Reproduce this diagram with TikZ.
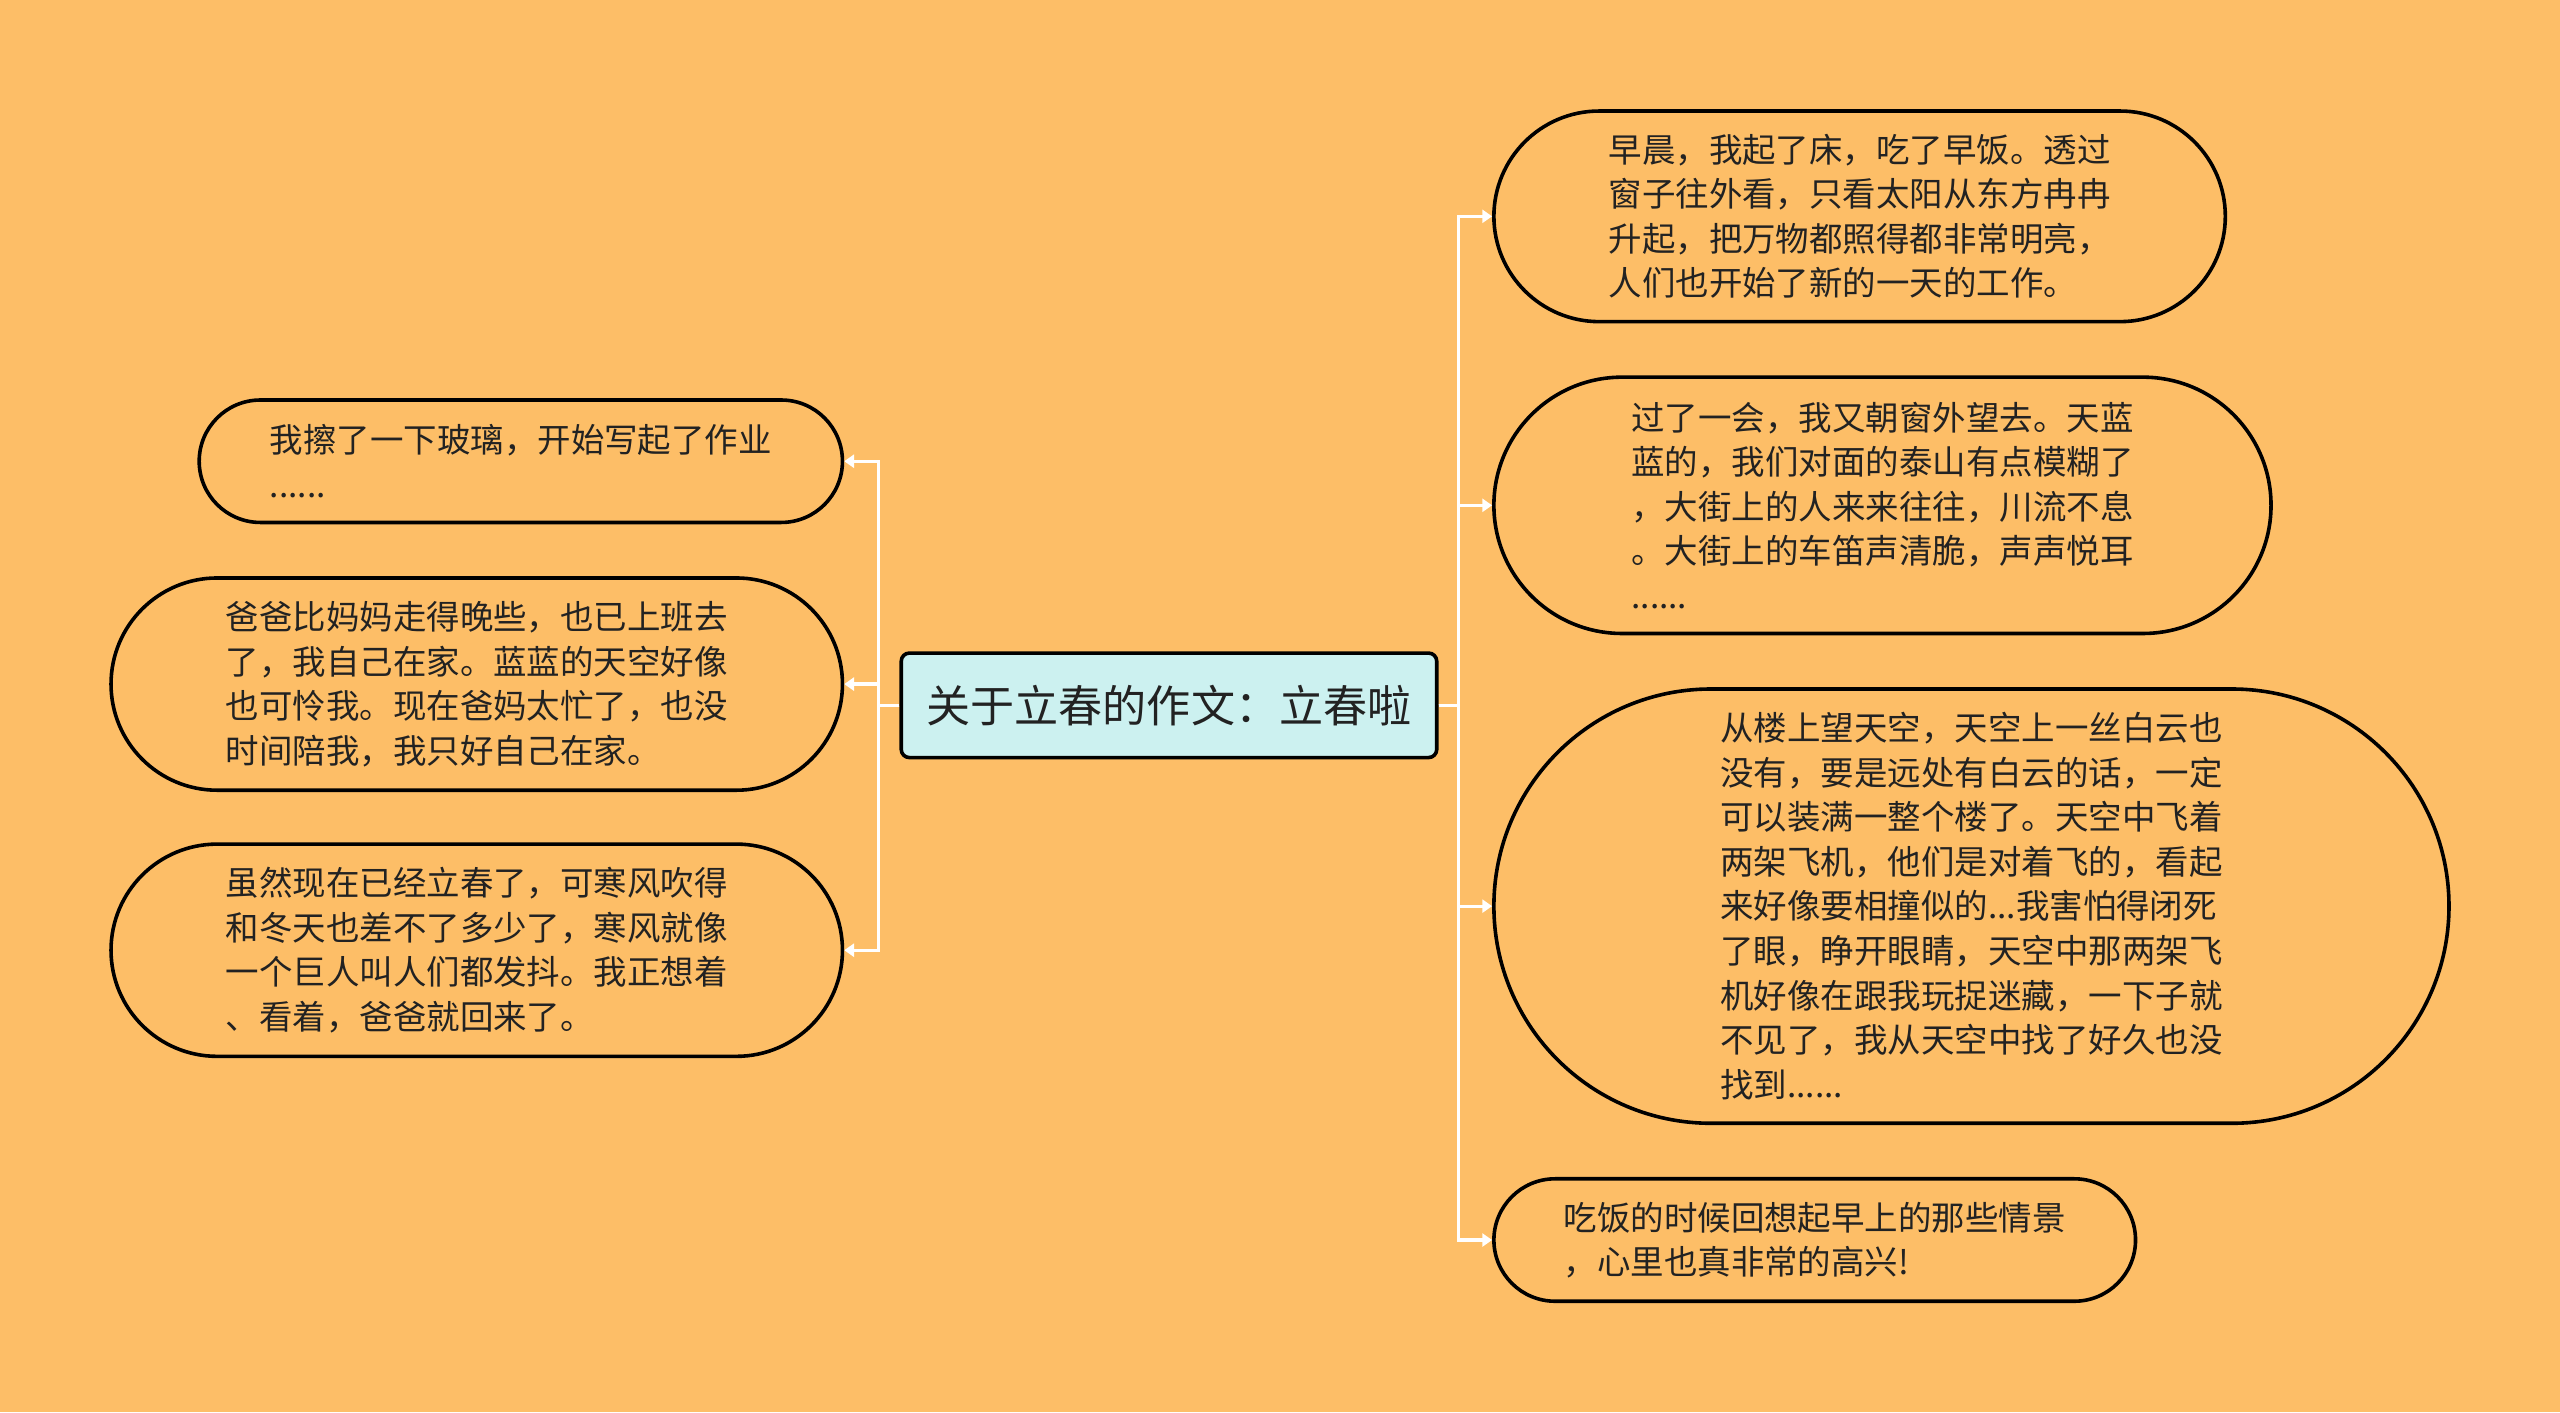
\documentclass[tikz,border=0pt]{standalone}
\usepackage{fontspec}
\setmainfont{Noto Sans CJK SC}
\usetikzlibrary{shapes.misc,arrows.meta}
\definecolor{bgorange}{RGB}{253,190,103}
\definecolor{rootcyan}{RGB}{204,241,240}
\definecolor{inkgray}{RGB}{34,34,34}

\begin{document}
\begin{tikzpicture}[x=1pt, y=-1pt,
  every node/.style = {
     align=left, text=inkgray, inner sep=0pt},
  leaf/.style = {draw=black, line width=2.2pt, fill=bgorange,
     rounded rectangle, font=\fontsize{20.5}{27.3}\selectfont},
  rootbox/.style = {draw=black, line width=2.2pt, fill=rootcyan,
     rounded corners=5pt, font=\fontsize{27}{32}\selectfont,
     minimum width=328pt, minimum height=64pt},
  link/.style = {draw=white, line width=2pt,
     -{Triangle[length=6pt,width=8pt]}}]
  \fill[bgorange] (0,0) rectangle (1568,865);

  \node[rootbox] (root) at (716,432) {关于立春的作文：立春啦};

  % left side
  \node[leaf, minimum width=394pt, minimum height=75pt] (l1) at (319,282.5)
    {我擦了一下玻璃，开始写起了作业\\......};
  \node[leaf, minimum width=448pt, minimum height=130pt] (l2) at (292,419)
    {爸爸比妈妈走得晚些，也已上班去\\了，我自己在家。蓝蓝的天空好像\\也可怜我。现在爸妈太忙了，也没\\时间陪我，我只好自己在家。};
  \node[leaf, minimum width=448pt, minimum height=130pt] (l3) at (292,582)
    {虽然现在已经立春了，可寒风吹得\\和冬天也差不了多少了，寒风就像\\一个巨人叫人们都发抖。我正想着\\、看着，爸爸就回来了。};

  % right side
  \node[leaf, minimum width=448pt, minimum height=129pt] (r1) at (1139,132.5)
    {早晨，我起了床，吃了早饭。透过\\窗子往外看，只看太阳从东方冉冉\\升起，把万物都照得都非常明亮，\\人们也开始了新的一天的工作。};
  \node[leaf, minimum width=476pt, minimum height=157pt] (r2) at (1153,309.5)
    {过了一会，我又朝窗外望去。天蓝\\蓝的，我们对面的泰山有点模糊了\\，大街上的人来来往往，川流不息\\。大街上的车笛声清脆，声声悦耳\\......};
  \node[leaf, minimum width=585pt, minimum height=266pt] (r3) at (1207.5,555)
    {从楼上望天空，天空上一丝白云也\\没有，要是远处有白云的话，一定\\可以装满一整个楼了。天空中飞着\\两架飞机，他们是对着飞的，看起\\来好像要相撞似的...我害怕得闭死\\了眼，睁开眼睛，天空中那两架飞\\机好像在跟我玩捉迷藏，一下子就\\不见了，我从天空中找了好久也没\\找到......};
  \node[leaf, minimum width=393pt, minimum height=75pt] (r4) at (1111.5,759.5)
    {吃饭的时候回想起早上的那些情景\\，心里也真非常的高兴!};

  \foreach \n in {l1,l2,l3}
    \draw[link] (root.west) -- ++(-13,0) |- (\n.east);
  \foreach \n in {r1,r2,r3,r4}
    \draw[link] (root.east) -- ++(12,0) |- (\n.west);
\end{tikzpicture}
\end{document}
